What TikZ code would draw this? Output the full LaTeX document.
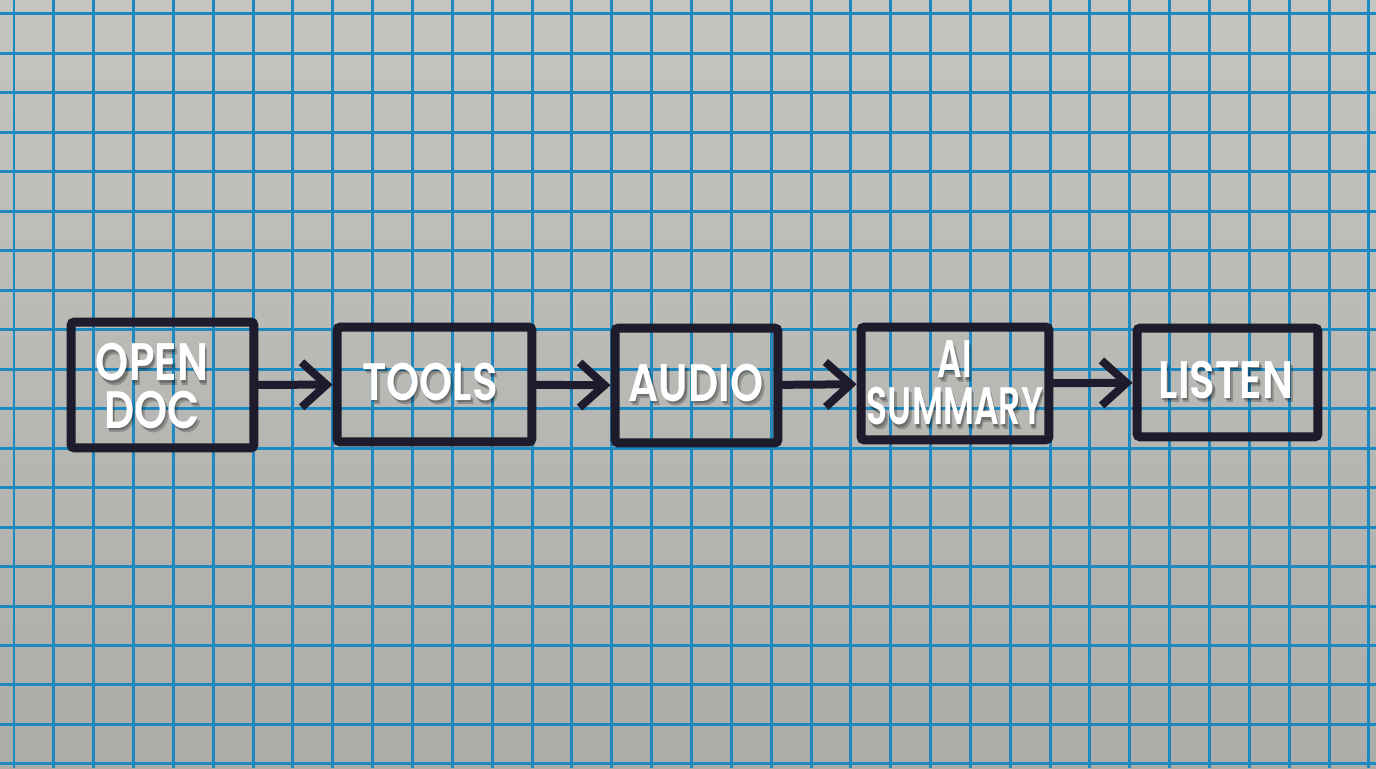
\documentclass[tikz,border=0pt]{standalone}
\usepackage{fontspec}
\usepackage{tikz}
\usepackage{xcolor}
\usetikzlibrary{arrows.meta,positioning}
\newfontfamily\handfont{Poppins}[BoldFont={* SemiBold}]
\definecolor{paperhi}{HTML}{C4C4C0}
\definecolor{paperlo}{HTML}{ACACA8}
\definecolor{gridblue}{HTML}{1E88C0}
\definecolor{ink}{HTML}{1D1B2C}
\tikzset{
  gridline/.style={draw=gridblue,line width=0.06cm},
  stepbox/.style={draw=ink,line width=0.18cm,rounded corners=2pt,
                  inner sep=0pt},
  txt/.style={text=white,font=\handfont\bfseries\fontsize{30}{27}\selectfont,
              align=center,xscale=0.8,transform shape,inner sep=0pt},
  txtshadow/.style={txt,text=black,text opacity=0.22},
  flowarr/.style={-{Straight Barb[length=0.5cm,width=0.9cm]},
                  line width=0.16cm,draw=ink,line cap=round}
}
% white lettering with a soft dark shadow
\newcommand\steplabel[4][]{%
  \node[txtshadow,#1,xshift=0.03cm,yshift=-0.05cm] (#2S) at (#3) {#4};
  \node[txtshadow,#1,xshift=0.07cm,yshift=-0.09cm] (#2B) at (#3) {#4};
  \node[txt,#1] (#2T) at (#3) {#4};}

\begin{document}
\begin{tikzpicture}[x=0.02cm,y=0.02cm]
    \useasboundingbox (0,0) rectangle (1376,768);
    \shade[top color=paperhi,bottom color=paperlo] (0,0) rectangle (1376,768);

    % squared paper
    \foreach \i in {0,...,34}
      \draw[gridline] ({14+39.85*\i},0) -- ++(0,768);
    \foreach \j in {0,...,19}
      \draw[gridline] (0,{754-39.47*\j}) -- ++(1376,0);

    \node[stepbox,minimum width=3.66cm,minimum height=2.52cm] (open) at (162.5,383) {};
    \node[stepbox,minimum width=3.90cm,minimum height=2.30cm] (tools) at (434.5,383.5) {};
    \node[stepbox,minimum width=3.26cm,minimum height=2.30cm] (audio) at (696.5,382.5) {};
    \node[stepbox,minimum width=3.76cm,minimum height=2.26cm] (summary) at (955,384.5) {};
    \node[stepbox,minimum width=3.62cm,minimum height=2.18cm] (listen) at (1227.5,385.5) {};

    \steplabel{open}{152,382}{OPEN\\DOC}
    \steplabel{tools}{430,386}{TOOLS}
    \steplabel{audio}{696,385}{AUDIO}
    \steplabel[xscale=0.82]{summary}{955,385}{AI\\SUMMARY}
    \steplabel{listen}{1226,388}{LISTEN}

    \draw[flowarr] (open) -- (tools);
    \draw[flowarr] (tools) -- (audio);
    \draw[flowarr] (audio) -- (summary);
    \draw[flowarr] (summary) -- (listen);
\end{tikzpicture}
\end{document}
